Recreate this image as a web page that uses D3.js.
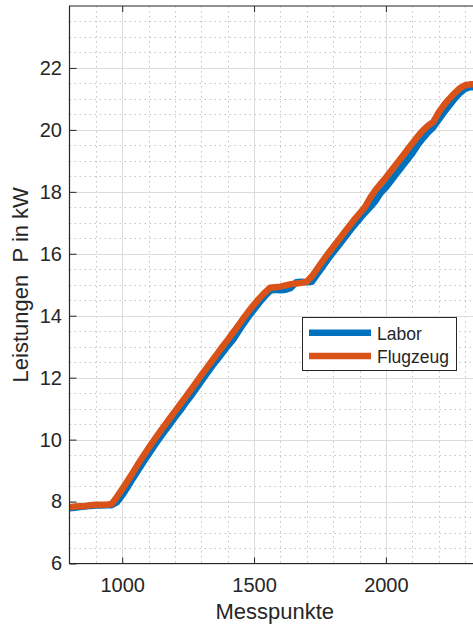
<!DOCTYPE html>
<html><head><meta charset="utf-8">
<script src="https://cdn.jsdelivr.net/npm/d3@7"></script>
<style>
body{margin:0;background:#fff}
svg{display:block;font-family:"Liberation Sans",Arial,Helvetica,sans-serif}
</style>
</head><body><svg id="c" width="473" height="624"></svg>
<script>
const messpunkte = [800,820,840,860,880,900,920,940,960,980,1000,1020,1040,1060,1080,1100,1120,1140,1160,1180,
  1200,1220,1240,1260,1280,1300,1320,1340,1360,1380,1400,1420,1440,1460,1480,1500,1520,1540,1560,1580,
  1600,1620,1640,1660,1680,1700,1720,1740,1760,1780,1800,1820,1840,1860,1880,1900,1920,1940,1960,1980,
  2000,2020,2040,2060,2080,2100,2120,2140,2160,2180,2200,2220,2240,2260,2280,2300,2320,2340,2360];
const labor = [7.78,7.80,7.82,7.84,7.86,7.87,7.87,7.88,7.88,7.98,8.20,8.46,8.74,9.00,9.27,9.52,9.78,10.02,10.26,10.48,
  10.72,10.94,11.18,11.40,11.64,11.88,12.12,12.36,12.58,12.80,13.02,13.22,13.48,13.74,13.98,14.20,14.42,14.62,14.80,14.84,
  14.82,14.84,14.90,15.08,15.10,15.08,15.10,15.34,15.58,15.82,16.04,16.26,16.48,16.70,16.92,17.12,17.32,17.50,17.70,17.96,
  18.14,18.36,18.58,18.80,19.02,19.24,19.50,19.72,19.92,20.08,20.32,20.56,20.78,21.00,21.18,21.32,21.38,21.38,21.38];
const flugzeug = [7.82,7.84,7.85,7.86,7.88,7.90,7.90,7.90,7.92,8.15,8.40,8.66,8.93,9.21,9.47,9.73,9.98,10.22,10.45,10.68,
  10.91,11.14,11.37,11.60,11.84,12.08,12.31,12.54,12.77,13.00,13.22,13.45,13.68,13.92,14.15,14.36,14.56,14.74,14.90,14.92,
  14.94,14.98,15.02,15.04,15.06,15.10,15.28,15.52,15.76,16.00,16.22,16.44,16.66,16.88,17.10,17.30,17.50,17.80,18.05,18.26,
  18.46,18.68,18.90,19.12,19.34,19.56,19.78,19.98,20.14,20.26,20.56,20.80,21.00,21.18,21.34,21.44,21.47,21.47,21.47];
const seriesNames = ["Labor", "Flugzeug"];
const seriesColors = ["#0072BD", "#D95319"];
const xTicks = [1000, 1500, 2000];
const yTicks = [6, 8, 10, 12, 14, 16, 18, 20, 22];
const xMinor = [900,1000,1100,1200,1300,1400,1500,1600,1700,1800,1900,2000,2100,2200,2300];
const yMinor = [6.5,7,7.5,8,8.5,9,9.5,10,10.5,11,11.5,12,12.5,13,13.5,14,14.5,15,15.5,16,16.5,17,17.5,18,18.5,19,19.5,20,20.5,21,21.5,22,22.5,23,23.5];
const xLabel = "Messpunkte";
const yLabel = "Leistungen  P in kW";

const L = 69.5, T = 6, R = 480, B = 563.5;
const axisColor = "#262626";
const svg = d3.select("#c");
const x = d3.scaleLinear().domain([800, 2357]).range([L, R]);
const y = d3.scaleLinear().domain([6, 24]).range([B, T]);

svg.append("defs").append("clipPath").attr("id", "pa")
  .append("rect").attr("x", L).attr("y", T).attr("width", R - L).attr("height", B - T);

// minor grid
const g = svg.append("g");
g.selectAll(".mx").data(xMinor).join("line")
  .attr("x1", d => Math.round(x(d)) + 0.5).attr("x2", d => Math.round(x(d)) + 0.5)
  .attr("y1", T).attr("y2", B)
  .attr("stroke", "#c4c4c4").attr("stroke-width", 1).attr("stroke-dasharray", "1.5,3.5");
g.selectAll(".my").data(yMinor).join("line")
  .attr("y1", d => Math.round(y(d)) + 0.5).attr("y2", d => Math.round(y(d)) + 0.5)
  .attr("x1", L).attr("x2", R)
  .attr("stroke", "#c4c4c4").attr("stroke-width", 1).attr("stroke-dasharray", "1.5,3.5");
// major grid
g.selectAll(".gx").data(xTicks).join("line")
  .attr("x1", d => Math.round(x(d)) + 0.5).attr("x2", d => Math.round(x(d)) + 0.5)
  .attr("y1", T).attr("y2", B).attr("stroke", "#dcdcdc").attr("stroke-width", 1);
g.selectAll(".gy").data(yTicks).join("line")
  .attr("y1", d => Math.round(y(d)) + 0.5).attr("y2", d => Math.round(y(d)) + 0.5)
  .attr("x1", L).attr("x2", R).attr("stroke", "#dcdcdc").attr("stroke-width", 1);

// series
const series = [labor, flugzeug];
const line = d3.line().x((d, i) => x(messpunkte[i])).y(d => y(d));
svg.append("g").attr("clip-path", "url(#pa)")
  .selectAll("path").data(series).join("path")
  .attr("d", d => line(d))
  .attr("fill", "none")
  .attr("stroke", (d, i) => seriesColors[i])
  .attr("stroke-width", 6.5)
  .attr("stroke-linejoin", "round")
  .attr("stroke-linecap", "butt");

// axes
const yAx = svg.append("g").attr("transform", `translate(${L},0)`)
  .call(d3.axisLeft(y).tickValues(yTicks).tickSize(-7).tickPadding(7.5).tickFormat(d3.format("d")));
const xAx = svg.append("g").attr("transform", `translate(0,${B})`)
  .call(d3.axisBottom(x).tickValues(xTicks).tickSize(-6).tickPadding(14.3).tickFormat(d3.format("d")));
const xTop = svg.append("g").attr("transform", `translate(0,${T})`)
  .call(d3.axisTop(x).tickValues(xTicks).tickSize(-6).tickFormat(""));
[yAx, xAx, xTop].forEach(a => {
  a.select(".domain").remove();
  a.selectAll("line").attr("stroke", axisColor).attr("stroke-width", 1);
  a.selectAll("text").attr("fill", axisColor).style("font-size", "20px")
    .style("font-family", '"Liberation Sans",Arial,Helvetica,sans-serif');
});
// box
svg.append("path")
  .attr("d", `M${R},${T}H${L}V${B}H${R}`)
  .attr("fill", "none").attr("stroke", axisColor).attr("stroke-width", 1.2);

// axis labels
svg.append("text").attr("x", (L + R) / 2).attr("y", 619).attr("text-anchor", "middle")
  .attr("fill", axisColor).style("font-size", "22px").text(xLabel);
svg.append("text").attr("transform", `translate(27.5,${(T + B) / 2}) rotate(-90)`)
  .attr("text-anchor", "middle").attr("fill", axisColor).style("font-size", "22px")
  .style("white-space", "pre").attr("xml:space", "preserve").text(yLabel);

// legend
const lg = svg.append("g");
lg.append("rect").attr("x", 302.5).attr("y", 317.5).attr("width", 154).attr("height", 53)
  .attr("fill", "#fff").attr("stroke", axisColor).attr("stroke-width", 1);
const items = lg.selectAll("g").data(seriesNames).join("g")
  .attr("transform", (d, i) => `translate(0,${332.7 + i * 23.3})`);
items.append("line").attr("x1", 309).attr("x2", 371).attr("y1", 0).attr("y2", 0)
  .attr("stroke", (d, i) => seriesColors[i]).attr("stroke-width", 6.5);
items.append("text").attr("x", 377).attr("y", 7).attr("fill", axisColor)
  .style("font-size", "17.5px").text(d => d);
</script>
</body></html>
